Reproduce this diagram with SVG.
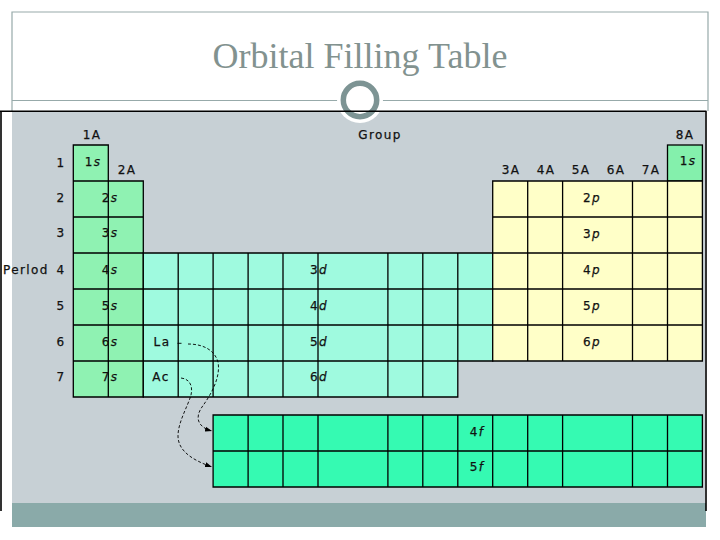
<svg xmlns="http://www.w3.org/2000/svg" width="720" height="540" viewBox="0 0 720 540">
<style>
.t{font-family:"DejaVu Sans","Liberation Sans",sans-serif;font-size:12px;fill:#111;stroke:#111;stroke-width:0.25;letter-spacing:1.4px;text-anchor:middle}
.i{font-style:italic}
.g{fill:none;stroke:#000;stroke-width:1.3}
.frame{fill:none;stroke:#97aaaa;stroke-width:1.2}
.c{fill:none;stroke:#000;stroke-width:0.9;stroke-dasharray:3 2}
</style>
<defs>
<marker id="ah" markerUnits="userSpaceOnUse" markerWidth="8" markerHeight="6" refX="7" refY="3" orient="auto">
<path d="M0,0.5L7,3L0,5.5Z" fill="#000"/>
</marker>
</defs>
<rect width="720" height="540" fill="#fff"/>
<g id="slide-frame">
<path class="frame" d="M12,111V12H708V111"/>
<line class="frame" x1="12" y1="100.5" x2="708" y2="100.5"/>
<text x="360" y="68" style="font-family:'Liberation Serif','DejaVu Serif',serif;font-size:36px;fill:#82928f;text-anchor:middle">Orbital Filling Table</text>
</g>
<g id="picture">
<rect x="12" y="111" width="693" height="392" fill="#c7d0d5"/>
<rect x="12" y="503" width="694" height="24" fill="#8aaaa9"/>
<circle cx="360" cy="100" r="23" fill="#fff"/>
<circle cx="360" cy="100" r="16.7" fill="#fff" stroke="#7d9494" stroke-width="5.5"/>
<path d="M0,111.2H706.5 M1,111V511 M706,111V511" fill="none" stroke="#000" stroke-width="1.6"/>
</g>
<g id="s-block">
<path d="M73.3,145H108.3V181H143.3V397H73.3Z" fill="#8ff2b2"/>
<path class="g" d="M73.3,145H108.3V181H143.3V397H73.3Z M73.3,181H108.3 M73.3,217H143.3 M73.3,253H143.3 M73.3,289H143.3 M73.3,325H143.3 M73.3,361H143.3 M108.3,181V397"/>
</g>
<g id="he-cell">
<rect x="667.5" y="145" width="34.9" height="36" fill="#84f0ac" stroke="#000" stroke-width="1.3"/>
</g>
<g id="d-block">
<path d="M143.3,253H492.7V361H457.8V397H143.3Z" fill="#9ffadf"/>
<path class="g" d="M143.3,253H492.7V361H457.8V397H143.3Z M143.3,289H492.7 M143.3,325H492.7 M143.3,361H457.8 M178.2,253V397 M213.1,253V397 M248.1,253V397 M283,253V397 M318,253V397 M387.9,253V397 M422.8,253V397 M457.8,253V361"/>
</g>
<g id="p-block">
<rect x="492.7" y="181" width="209.7" height="180" fill="#ffffc8"/>
<path class="g" d="M492.7,181H702.4V361H492.7Z M492.7,217H702.4 M492.7,253H702.4 M492.7,289H702.4 M492.7,325H702.4 M527.7,181V361 M562.6,181V361 M632.5,181V361 M667.5,181V361"/>
</g>
<g id="f-block">
<rect x="213.1" y="415" width="489.3" height="72" fill="#35fab2"/>
<path class="g" d="M213.1,415H702.4V487H213.1Z M213.1,451H702.4 M248.1,415V487 M283,415V487 M318,415V487 M387.9,415V487 M422.8,415V487 M457.8,415V487 M492.7,415V487 M527.7,415V487 M562.6,415V487 M632.5,415V487 M667.5,415V487"/>
</g>
<g id="labels">
<text class="t" x="92" y="138.5">1A</text>
<text class="t" x="380" y="138.5">Group</text>
<text class="t" x="685" y="138.5">8A</text>
<text class="t" x="127" y="174">2A</text>
<text class="t" x="511" y="174">3A</text>
<text class="t" x="546" y="174">4A</text>
<text class="t" x="581" y="174">5A</text>
<text class="t" x="616" y="174">6A</text>
<text class="t" x="651" y="174">7A</text>
<text class="t" x="61" y="166.5">1</text>
<text class="t" x="61" y="202">2</text>
<text class="t" x="61" y="237">3</text>
<text class="t" x="3" y="274" style="text-anchor:start">Perlod</text>
<text class="t" x="61" y="274">4</text>
<text class="t" x="61" y="310">5</text>
<text class="t" x="61" y="346">6</text>
<text class="t" x="61" y="380.5">7</text>
<text class="t" x="93" y="166">1<tspan class="i">s</tspan></text>
<text class="t" x="688" y="165">1<tspan class="i">s</tspan></text>
<text class="t" x="110" y="202">2<tspan class="i">s</tspan></text>
<text class="t" x="110" y="237">3<tspan class="i">s</tspan></text>
<text class="t" x="110" y="274">4<tspan class="i">s</tspan></text>
<text class="t" x="110" y="310">5<tspan class="i">s</tspan></text>
<text class="t" x="110" y="346">6<tspan class="i">s</tspan></text>
<text class="t" x="110" y="380.5">7<tspan class="i">s</tspan></text>
<text class="t" x="162" y="346">La</text>
<text class="t" x="161" y="380.5">Ac</text>
<text class="t" x="319" y="274">3<tspan class="i">d</tspan></text>
<text class="t" x="319" y="310">4<tspan class="i">d</tspan></text>
<text class="t" x="319" y="346">5<tspan class="i">d</tspan></text>
<text class="t" x="319" y="380.5">6<tspan class="i">d</tspan></text>
<text class="t" x="592" y="202">2<tspan class="i">p</tspan></text>
<text class="t" x="592" y="238">3<tspan class="i">p</tspan></text>
<text class="t" x="592" y="274">4<tspan class="i">p</tspan></text>
<text class="t" x="592" y="310">5<tspan class="i">p</tspan></text>
<text class="t" x="592" y="346">6<tspan class="i">p</tspan></text>
<text class="t" x="477" y="436">4<tspan class="i">f</tspan></text>
<text class="t" x="477" y="471">5<tspan class="i">f</tspan></text>
</g>
<g id="connectors">
<line x1="177.5" y1="343.3" x2="181.5" y2="343.3" stroke="#000" stroke-width="0.9"/>
<path class="c" marker-end="url(#ah)" d="M188,344 C200,344 214,348 218,362 C221,378 210,396 202,407 C195,417 197,427 212,431"/>
<path class="c" marker-end="url(#ah)" d="M181,378 C190,379 193,386 191,395 C188,406 178,422 178,436 C178,452 195,461 212,467"/>
</g>
</svg>
